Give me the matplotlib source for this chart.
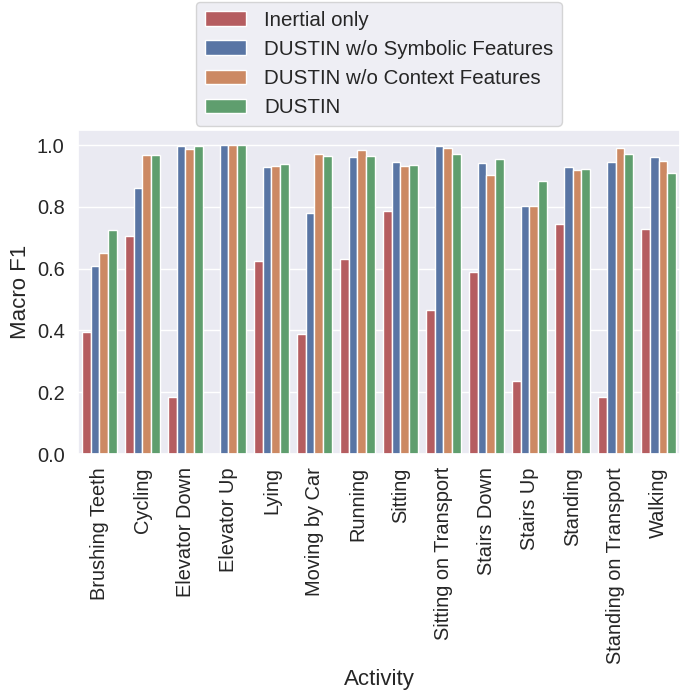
import pandas as pd
import matplotlib
matplotlib.use('Agg')
import matplotlib.pyplot as plt
import seaborn as sns

# macro F1 per activity
activities = ['Brushing Teeth', 'Cycling', 'Elevator Down', 'Elevator Up', 'Lying',
              'Moving by Car', 'Running', 'Sitting', 'Sitting on Transport',
              'Stairs Down', 'Stairs Up', 'Standing', 'Standing on Transport', 'Walking']
models = ['Inertial only', 'DUSTIN w/o Symbolic Features',
          'DUSTIN w/o Context Features', 'DUSTIN']

inertial_only = [0.396, 0.706, 0.186, 0.0, 0.625, 0.387, 0.633, 0.786, 0.467,
                 0.589, 0.235, 0.744, 0.186, 0.730]
no_symbolic = [0.609, 0.860, 0.998, 1.0, 0.930, 0.780, 0.962, 0.945, 0.998,
               0.943, 0.804, 0.930, 0.945, 0.963]
no_context = [0.650, 0.969, 0.988, 1.0, 0.932, 0.973, 0.984, 0.933, 0.992,
              0.904, 0.804, 0.921, 0.990, 0.948]
dustin = [0.725, 0.969, 0.998, 1.0, 0.940, 0.964, 0.964, 0.936, 0.973,
          0.954, 0.884, 0.923, 0.972, 0.911]

rows = []
for model, vals in zip(models, [inertial_only, no_symbolic, no_context, dustin]):
    for act, v in zip(activities, vals):
        rows.append({'Activity': act, 'Model': model, 'Macro F1': v})
df = pd.DataFrame(rows)

sns.set_theme(style='darkgrid', font_scale=1.31)
plt.rcParams['font.family'] = ['Liberation Sans', 'DejaVu Sans']

palette = ['#c44e52', '#4c72b0', '#dd8452', '#55a868']

fig = plt.figure(figsize=(6.89, 6.90), dpi=100)
ax = fig.add_axes([0.113, 0.342, 0.874, 0.470])
sns.barplot(data=df, x='Activity', y='Macro F1', hue='Model', hue_order=models,
            palette=palette, ax=ax, edgecolor='white', linewidth=1)

ax.set_ylim(0, 1.05)
ax.set_yticks([0.0, 0.2, 0.4, 0.6, 0.8, 1.0])
ax.set_xlim(-0.5, len(activities) - 0.5)
plt.setp(ax.get_xticklabels(), rotation=90)
ax.set_xlabel('Activity', fontsize=16)
ax.set_ylabel('Macro F1', fontsize=16)
ax.legend(loc='lower center', bbox_to_anchor=(0.5, 1.0), frameon=True, fontsize=14.8,
          handlelength=2.0, handletextpad=0.9, borderaxespad=0.2)

fig.savefig('out.png', dpi=100)
